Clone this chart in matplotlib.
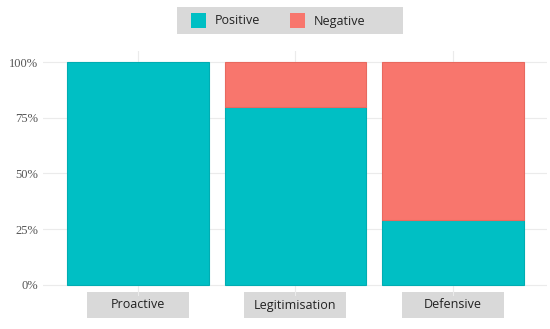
import matplotlib.pyplot as plt
from matplotlib.patches import Rectangle
from matplotlib.transforms import blended_transform_factory
import numpy as np

# Data
categories = ["Proactive", "Legitimisation", "Defensive"]
positive = [1.00, 0.80, 0.29]
negative = [0.00, 0.20, 0.71]
series_names = ["Positive", "Negative"]
colors = ["#00BFC4", "#F8766D"]
edge_colors = ["#00ADB2", "#E8695F"]
y_ticks = [0, 0.25, 0.5, 0.75, 1.0]
y_labels = ["0%", "25%", "50%", "75%", "100%"]

fig = plt.figure(figsize=(5.5, 3.29), dpi=100)
ax = fig.add_axes([0.079, 0.1003, 0.9164, 0.7447])

x = np.arange(1, len(categories) + 1)
ax.bar(x, positive, width=0.9, color=colors[0], edgecolor=edge_colors[0], linewidth=0.8, zorder=2)
# skip outlines on empty segments
neg_edges = [edge_colors[1] if v > 0 else "none" for v in negative]
ax.bar(x, negative, width=0.9, bottom=positive, color=colors[1], edgecolor=neg_edges,
       linewidth=0.8, zorder=2)

ax.set_xlim(0.4, 3.6)
ax.set_ylim(-0.05, 1.05)
ax.set_yticks(y_ticks)
ax.set_yticklabels(y_labels, family="Liberation Serif", fontsize=9, color="#555555")
ax.set_xticks(x)
ax.set_xticklabels([])
ax.tick_params(length=0, pad=4)
ax.grid(True, color="#EBEBEB", linewidth=0.8, zorder=0)
for s in ax.spines.values():
    s.set_visible(False)

# category label boxes
trans = blended_transform_factory(ax.transData, fig.transFigure)
box_w = 0.648
for xi, name in zip(x, categories):
    ax.add_patch(Rectangle((xi - box_w / 2, 1 - 318 / 329), box_w, 26 / 329, transform=trans,
                           facecolor="#D9D9D9", edgecolor="none", clip_on=False))
    ax.text(xi, 1 - 305 / 329, name, transform=trans, ha="center", va="center",
            family="Open Sans", fontsize=9, color="#222222")

# legend
fig.patches.append(Rectangle((177 / 550, 1 - 34 / 329), 226 / 550, 27 / 329, transform=fig.transFigure,
                             facecolor="#D9D9D9", edgecolor="none"))
key_x = [191, 290]
for kx, name, c in zip(key_x, series_names, colors):
    fig.patches.append(Rectangle((kx / 550, 1 - 28 / 329), 15 / 550, 15 / 329, transform=fig.transFigure,
                                 facecolor=c, edgecolor="none"))
    fig.text((kx + 24) / 550, 1 - 21 / 329, name, ha="left", va="center",
             family="Open Sans", fontsize=9, color="#222222")

fig.savefig("out.png", dpi=100)
